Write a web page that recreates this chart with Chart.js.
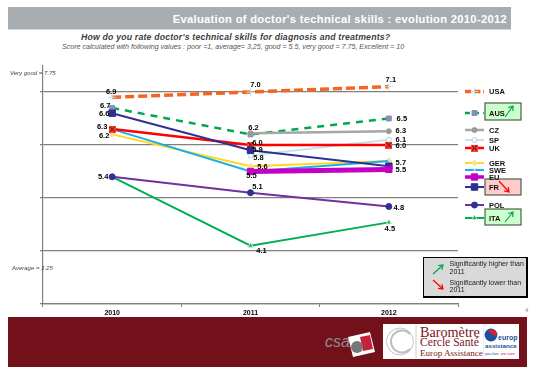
<!DOCTYPE html>
<html>
<head>
<meta charset="utf-8">
<title>Evaluation of doctor's technical skills</title>
<script src="https://cdn.jsdelivr.net/npm/chart.js@4"></script>
<style>
  html, body { margin: 0; padding: 0; background: #fff; overflow: hidden; }
  #page { position: relative; width: 539px; height: 376px; font-family: "Liberation Sans", Arial, sans-serif; }
  #page div, #page svg { position: absolute; white-space: nowrap; }
  #chart { position: absolute; left: 0; top: 0; z-index: 2; }
  #headerBar { left: 8px; top: 7px; width: 503px; height: 22px; background: #a8adb2; border-bottom: 1px solid #d5d7d9; }
  #title { right: 32px; top: 11px; font: bold 11.2px/17px "Liberation Sans"; color: #fff; letter-spacing: .3px; }
  #question { left: 81px; top: 31px; font: italic bold 8.7px/12px "Liberation Sans"; color: #404040; letter-spacing: .2px; }
  #scoreNote { left: 62px; top: 43px; font: italic 7.1px/9px "Liberation Sans"; color: #555; }
  .scaleNote { font: italic 6px/8px "Liberation Sans"; color: #444; z-index: 3; }
  #pageNo { left: 525px; top: 306px; font: 6px/8px "Liberation Sans"; color: #888; }
  #footer { left: 8px; top: 317px; width: 519px; height: 50px; background: #73111a; }
  #csa { left: 325px; top: 332px; font: italic 16px/20px "Liberation Sans"; color: #8c8c8c; }
  #brandBox { left: 383px; top: 324px; width: 136px; height: 35px; background: #fff; }
  .brand { font-family: "Liberation Serif"; color: #7d1620; }
  .europ { font-family: "Liberation Sans"; font-weight: bold; line-height: 8px; color: #1f4e9c; }
</style>
</head>
<body>
<div id="page">
  <div id="headerBar"></div>
  <div id="title">Evaluation of doctor's technical skills : evolution 2010-2012</div>
  <div id="question">How do you rate doctor's technical skills for diagnosis and treatments?</div>
  <div id="scoreNote">Score calculated with following values : poor =1, average= 3,25, good = 5.5, very good = 7.75, Excellent = 10</div>
  <div class="scaleNote" style="left:10px;top:69px">Very good = 7.75</div>
  <div class="scaleNote" style="left:12px;top:264px">Average = 3.25</div>
  <div id="pageNo">4</div>
  <div id="footer"></div>
  <div id="csa">csa</div>
  <svg style="left:345px;top:331px" width="32" height="28" viewBox="0 0 32 28">
    <polygon points="3,6 25,1 30,21 8,26" fill="#fff"/>
    <polygon points="15,6 25,4 28,18 18,20" fill="#c8203c"/>
    <circle cx="12" cy="16" r="6" fill="#777"/>
  </svg>
  <div id="brandBox"></div>
  <svg style="left:384px;top:325px" width="100" height="33" viewBox="0 0 100 33">
    <circle cx="16" cy="16.5" r="13.5" fill="none" stroke="#c4c4c4" stroke-width="1"/>
    <path d="M26 9 A11 11 0 1 0 26 24" fill="none" stroke="#bdbdbd" stroke-width="2"/>
    <line x1="32" y1="0" x2="32" y2="33" stroke="#ccc"/>
    <line x1="100" y1="0" x2="100" y2="33" stroke="#ddd"/>
  </svg>
  <div class="brand" style="left:420px;top:325px;font-size:14.2px;line-height:14px">Baromètre</div>
  <div class="brand" style="left:420px;top:337px;font-size:11.6px;line-height:12px">Cercle Santé</div>
  <div class="brand" style="left:420px;top:348px;font-size:9.1px;line-height:10px">Europ Assistance</div>
  <svg style="left:484px;top:328px" width="14" height="14" viewBox="0 0 14 14">
    <circle cx="7" cy="7" r="6.4" fill="#1f4e9c"/>
    <path d="M4 2 A6.4 6.4 0 0 1 13 8 Q8 8 4 2Z" fill="#d9202c"/>
  </svg>
  <div class="europ" style="left:498px;top:334px;font-size:7px">europ</div>
  <div class="europ" style="left:485px;top:342px;font-size:6.2px">assistance</div>
  <div style="left:485px;top:351px;font:4px/5px 'Liberation Sans';color:#1f4e9c">you live, <span style="color:#c8203c">we care</span></div>
  <canvas id="chart" width="539" height="376"></canvas>
</div>

<script>
const years = ["2010", "2011", "2012"];

// Values, labels are these rounded to one decimal
const usa = [6.9, 7.0, 7.1];
const aus = [6.7, 6.2, 6.5];
const cz = [null, 6.22, 6.26];
const sp = [null, 5.8, 6.1];
const uk = [6.3, 6.0, 6.0];
const ger = [6.2, 5.6, 5.7];
const swe = [6.3, 5.5, 5.7];
const eu = [null, 5.5, 5.54];
const fr = [6.6, 5.9, 5.6];
const pol = [5.4, 5.1, 4.84];
const ita = [5.4, 4.1, 4.54];

const seriesNames = ["USA", "AUS", "CZ", "SP", "UK", "GER", "SWE", "EU", "FR", "POL", "ITA"];
const seriesValues = [usa, aus, cz, sp, uk, ger, swe, eu, fr, pol, ita];
const seriesColors = ["#f26522", "#00a651", "#a6a6a6", "#c5e4e8", "#ff0000", "#ffd91a", "#19aeea", "#c400c4", "#2e3192", "#7030a0", "#00b050"];
const lineWidths = [3.5, 2.5, 2.5, 2, 2.5, 2, 2, 5, 2, 2, 2];
const lineDashes = [[9, 4], [7, 6], [], [], [], [], [], [], [], [], []];
const drawOrder = [9, 8, 7, 6, 3, 5, 4, 0, 2, 1, 1];
const markerStyles = ["cross", "rect", "circle", "circle", "rect", "rectRot", "crossRot", "rect", "rect", "circle", "triangle"];
const markerSizes = [4, 3.5, 2.5, 2.5, 4, 3, 3, 4.5, 4.6, 3, 3];
const markerFills = ["#bfe3e6", "#8a8fb8", "#9a9a9a", "#ffffff", "#ff3b30", "#ffe680", "#bfe3e6", "#c400c4", "#2e3192", "#2e3192", "#00b050"];
const markerBorders = ["#bfe3e6", "#8a8fb8", "#9a9a9a", "#a8d8dc", "#d08070", "#e8e0a0", "#bfe3e6", "#c400c4", "#2e3192", "#2e3192", "#d0e8d8"];

// label offset from the point for each year, null = no label drawn
const labelOffsets = [
  [[-1, -5], [5, -7], [2, -7]],
  [[-7, -2], null, [13, 0]],
  [null, [3, -5], [12, 0]],
  [null, [8, 2], [12, 0]],
  [[-10, -2], [7, -2], [12, 1]],
  [[-8, 2], [12, 1], null],
  [null, [1, 4], [12, 2]],
  [null, null, [12, 1]],
  [[-8, 1], [7, 0], null],
  [[-9, 0], [7, -6], [10, 1]],
  [null, [11, 5], [1, 7]],
];

// legend rows
const legendRows = [91.5, 113, 130, 140, 148, 163, 170, 177, 187, 205, 218];
const legendBoxes = [
  { name: "AUS", top: 103, bottom: 120, fill: "#ccffcc", up: true },
  { name: "FR", top: 179, bottom: 195, fill: "#ffcccc", up: false },
  { name: "ITA", top: 209, bottom: 225, fill: "#ccffcc", up: true },
];

const keyLines = ["Significantly higher than", "2011", "Significantly lower than", "2011"];

const fontStack = '"Liberation Sans", Arial, sans-serif';

function crossedBox(size) {
  const c = document.createElement("canvas");
  c.width = size;
  c.height = size;
  const g = c.getContext("2d");
  g.fillStyle = "#ff3b30";
  g.fillRect(0, 0, size, size);
  g.strokeStyle = "#400000";
  g.lineWidth = 1;
  g.beginPath();
  g.moveTo(1, 1);
  g.lineTo(size - 1, size - 1);
  g.moveTo(size - 1, 1);
  g.lineTo(1, size - 1);
  g.stroke();
  return c;
}
const ukMarker = crossedBox(7);

function drawArrow(ctx, x1, y1, x2, y2, color) {
  const a = Math.atan2(y2 - y1, x2 - x1);
  ctx.strokeStyle = color;
  ctx.lineWidth = 1.2;
  ctx.setLineDash([]);
  ctx.beginPath();
  ctx.moveTo(x1, y1);
  ctx.lineTo(x2, y2);
  ctx.moveTo(x2 - 5 * Math.cos(a - 0.6), y2 - 5 * Math.sin(a - 0.6));
  ctx.lineTo(x2, y2);
  ctx.lineTo(x2 - 5 * Math.cos(a + 0.6), y2 - 5 * Math.sin(a + 0.6));
  ctx.stroke();
}

// Value labels next to the points
const valueLabels = {
  id: "valueLabels",
  afterDatasetsDraw(chart) {
    const ctx = chart.ctx;
    ctx.save();
    ctx.font = "bold 7.5px " + fontStack;
    ctx.fillStyle = "#000";
    ctx.textAlign = "center";
    ctx.textBaseline = "middle";
    seriesValues.forEach((values, i) => {
      values.forEach((v, j) => {
        const off = labelOffsets[i][j];
        if (v === null || !off) return;
        const x = chart.scales.x.getPixelForValue(j);
        const y = chart.scales.y.getPixelForValue(v);
        ctx.fillText(v.toFixed(1), x + off[0], y + off[1]);
      });
    });
    ctx.restore();
  },
};

// The slide's hand-placed legend and the grey key box
const slideLegend = {
  id: "slideLegend",
  afterDraw(chart) {
    const ctx = chart.ctx;
    ctx.save();
    legendBoxes.forEach((b) => {
      ctx.fillStyle = b.fill;
      ctx.fillRect(485, b.top, 36, b.bottom - b.top);
      ctx.strokeStyle = "#4a5f4a";
      ctx.lineWidth = 1.2;
      ctx.strokeRect(485, b.top, 36, b.bottom - b.top);
      if (b.up) drawArrow(ctx, 505, b.bottom - 3, 513, b.top + 3, "#00a651");
      else drawArrow(ctx, 499, b.top + 2, 509, b.bottom - 3, "#ff0000");
    });
    ctx.textBaseline = "middle";
    ctx.textAlign = "left";
    seriesNames.forEach((name, i) => {
      const y = legendRows[i];
      ctx.strokeStyle = seriesColors[i];
      ctx.lineWidth = Math.min(lineWidths[i], 3.5);
      ctx.setLineDash(lineDashes[i].map((d) => d * 0.7));
      ctx.beginPath();
      ctx.moveTo(465, y);
      ctx.lineTo(484, y);
      ctx.stroke();
      ctx.setLineDash([]);
      ctx.fillStyle = markerFills[i];
      ctx.strokeStyle = markerBorders[i];
      ctx.lineWidth = 1;
      Chart.helpers.drawPoint(ctx, {
        pointStyle: name === "UK" ? ukMarker : markerStyles[i],
        rotation: 0,
        borderWidth: 1,
        radius: markerSizes[i],
      }, 474.5, y);
      ctx.fillStyle = "#111";
      ctx.font = "bold 7.5px " + fontStack;
      ctx.fillText(name, 489, y + 0.5);
    });

    // key box
    ctx.fillStyle = "#d9d9d9";
    ctx.fillRect(423, 257, 105, 41);
    ctx.fillStyle = "#000";
    ctx.fillRect(423, 257, 105, 1);
    ctx.fillRect(423, 257, 1, 41);
    ctx.fillRect(526, 257, 2, 41);
    ctx.fillRect(423, 296, 105, 2);
    drawArrow(ctx, 433, 274, 443, 265, "#00a651");
    drawArrow(ctx, 433, 280, 443, 289, "#ff0000");
    ctx.fillStyle = "#222";
    ctx.font = "7px " + fontStack;
    keyLines.forEach((line, k) => {
      ctx.fillText(line, 449.5, [264, 272, 283, 290.5][k]);
    });
    ctx.restore();
  },
};

const datasets = seriesNames.map((name, i) => ({
  label: name,
  data: seriesValues[i],
  borderColor: seriesColors[i],
  borderWidth: lineWidths[i],
  borderDash: lineDashes[i],
  order: drawOrder[i],
  tension: 0,
  pointStyle: name === "UK" ? ukMarker : markerStyles[i],
  pointRadius: markerSizes[i],
  pointBackgroundColor: markerFills[i],
  pointBorderColor: markerBorders[i],
  pointBorderWidth: 1,
}));

new Chart(document.getElementById("chart").getContext("2d"), {
  type: "line",
  data: { labels: years, datasets: datasets },
  plugins: [valueLabels, slideLegend],
  options: {
    responsive: false,
    animation: false,
    layout: { padding: { left: 43, right: 81, top: 65.5, bottom: 54 } },
    plugins: {
      legend: { display: false },
      title: { display: false },
      tooltip: { enabled: false },
    },
    scales: {
      x: {
        offset: true,
        afterFit(scale) { scale.height = 18; },
        grid: { offset: true, drawOnChartArea: false, color: "#808080", tickLength: 3 },
        border: { color: "#808080", width: 1.2 },
        ticks: { color: "#000", padding: 2, font: { family: fontStack, size: 7, weight: "bold" } },
      },
      y: {
        min: 3,
        max: 7.5,
        afterFit(scale) { scale.width = 0; },
        afterBuildTicks(scale) {
          scale.ticks = scale.ticks.filter((t) => Number.isInteger(t.value));
        },
        grid: { color: "#808080", lineWidth: 1.2, tickLength: 3 },
        border: { color: "#808080", width: 1.2 },
        ticks: { stepSize: 1, display: false },
      },
    },
  },
});
</script>
</body>
</html>
